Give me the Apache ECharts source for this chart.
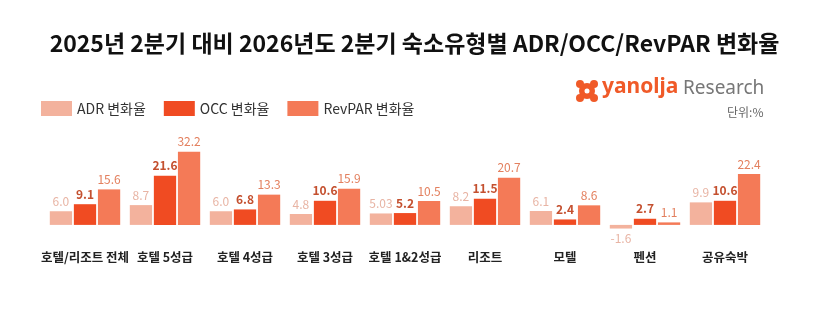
<!DOCTYPE html>
<html><head><meta charset="utf-8">
<script src="https://cdn.jsdelivr.net/npm/echarts@6/dist/echarts.min.js"></script>
<style>html,body{margin:0;padding:0;background:#fff}#c{width:829px;height:322px}</style>
</head><body><div id="c"></div>
<script>
const categories = ['호텔/리조트 전체','호텔 5성급','호텔 4성급','호텔 3성급','호텔 1&2성급','리조트','모텔','펜션','공유숙박'];
const adr = [6.0, 8.7, 6.0, 4.8, 5.03, 8.2, 6.1, -1.6, 9.9];
const occ = [9.1, 21.6, 6.8, 10.6, 5.2, 11.5, 2.4, 2.7, 10.6];
const revpar = [15.6, 32.2, 13.3, 15.9, 10.5, 20.7, 8.6, 1.1, 22.4];
const seriesNames = ['ADR 변화율','OCC 변화율','RevPAR 변화율'];

const FONT = '"Noto Sans CJK KR", "Noto Sans", sans-serif';
const fmt = v => (Math.round(Math.abs(v) * 100) % 10 !== 0 ? v.toFixed(2) : v.toFixed(1));
function mkData(arr) {
  return arr.map(v => v < 0 ? { value: v, label: { position: 'bottom' } } : v);
}
function mkSeries(name, arr, color, labelColor, bold) {
  return {
    name, type: 'bar', data: mkData(arr), barGap: '8%', barCategoryGap: '12%',
    itemStyle: { color },
    label: { show: true, position: 'top', distance: 4, color: labelColor, fontSize: 12,
      fontWeight: bold ? 'bold' : 'normal', fontFamily: FONT, formatter: p => fmt(p.value) }
  };
}
const chart = echarts.init(document.getElementById('c'));
chart.setOption({
  animation: false,
  textStyle: { fontFamily: FONT },
  title: { text: '2025년 2분기 대비 2026년도 2분기 숙소유형별 ADR/OCC/RevPAR 변화율', left: 'center', top: 27,
    textStyle: { fontSize: 23, fontWeight: 'bold', color: '#111', fontFamily: FONT } },
  legend: { left: 36, top: 96, itemWidth: 31, itemHeight: 15, itemGap: 18, icon: 'rect',
    textStyle: { fontSize: 14, color: '#333', fontFamily: FONT }, data: seriesNames },
  grid: { left: 45, right: 64, top: 143, height: 91 },
  xAxis: { type: 'category', data: categories, axisLine: { show: false }, axisTick: { show: false },
    axisLabel: { margin: 17, fontSize: 12.5, fontWeight: 'bold', color: '#222', fontFamily: FONT, interval: 0 } },
  yAxis: { type: 'value', min: -4, max: 36, show: false, splitLine: { show: false } },
  series: [
    mkSeries(seriesNames[0], adr, '#f3b29d', '#e8b4a4', false),
    mkSeries(seriesNames[1], occ, '#f04b22', '#c4502f', true),
    mkSeries(seriesNames[2], revpar, '#f47a57', '#e3805f', false)
  ],
  graphic: [
    { type: 'group', left: 576, top: 80, children: [
      { type: 'circle', shape: { cx: 11, cy: 11, r: 8 }, style: { fill: '#f05a28' } },
      { type: 'circle', shape: { cx: 4, cy: 4, r: 4 }, style: { fill: '#f05a28' } },
      { type: 'circle', shape: { cx: 18, cy: 4, r: 4 }, style: { fill: '#f05a28' } },
      { type: 'circle', shape: { cx: 4, cy: 18, r: 4 }, style: { fill: '#f05a28' } },
      { type: 'circle', shape: { cx: 18, cy: 18, r: 4 }, style: { fill: '#f05a28' } },
      { type: 'circle', shape: { cx: 11, cy: 11, r: 2.5 }, style: { fill: '#fff' } }
    ]},
    { type: 'text', left: 602, top: 77, style: { text: 'yanolja', fill: '#f05a28', font: 'bold 21px "Noto Sans", sans-serif' } },
    { type: 'text', left: 683, top: 79, style: { text: 'Research', fill: '#777', font: '19px "Noto Sans", sans-serif' } },
    { type: 'text', left: 727, top: 106, style: { text: '단위:%', fill: '#666', font: '12px "Noto Sans CJK KR", sans-serif' } }
  ]
});
</script></body></html>
